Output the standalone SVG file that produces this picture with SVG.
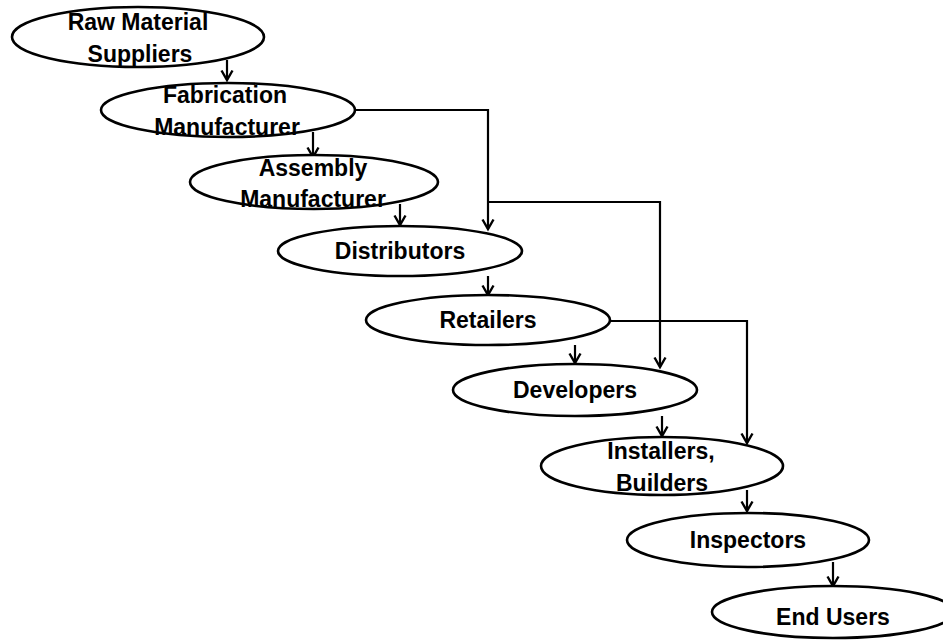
<svg xmlns="http://www.w3.org/2000/svg" width="943" height="640" viewBox="0 0 943 640">
<style>
.n ellipse{fill:#fff;stroke:#000;stroke-width:2.6}
.n text{font-family:"Liberation Sans",Arial,sans-serif;font-weight:bold;font-size:23px;text-anchor:middle;fill:#000}
.c path{fill:none;stroke:#000;stroke-width:2.2;marker-end:url(#ah)}
</style>
<defs>
<marker id="ah" markerUnits="userSpaceOnUse" markerWidth="16" markerHeight="16" refX="13" refY="8" orient="auto" viewBox="0 0 16 16">
<path d="M3.5,2.5 L13,8 L3.5,13.5" fill="none" stroke="#000" stroke-width="2.4"/>
</marker>
</defs>
<g class="c">
<path d="M227,60 V80"/>
<path d="M313,132 V157"/>
<path d="M400,204 V225"/>
<path d="M355,110 H488 V229"/>
<path d="M488,202 H660 V367"/>
<path d="M488,276 V295"/>
<path d="M610,321 H747 V443"/>
<path d="M575,345 V363"/>
<path d="M662,416 V436"/>
<path d="M747,490 V511"/>
<path d="M833,562 V586"/>
</g>
<g id="raw" class="n"><ellipse cx="138" cy="37" rx="126" ry="30"/><text x="138" y="30">Raw Material</text><text x="140" y="62">Suppliers</text></g>
<g id="fab" class="n"><ellipse cx="228" cy="110" rx="127" ry="27"/><text x="225" y="103">Fabrication</text><text x="227" y="135">Manufacturer</text></g>
<g id="asm" class="n"><ellipse cx="314" cy="182" rx="124" ry="27"/><text x="313" y="176">Assembly</text><text x="313" y="207">Manufacturer</text></g>
<g id="dist" class="n"><ellipse cx="400" cy="251" rx="122" ry="25"/><text x="400" y="259">Distributors</text></g>
<g id="ret" class="n"><ellipse cx="488" cy="320" rx="122" ry="25"/><text x="488" y="328">Retailers</text></g>
<g id="dev" class="n"><ellipse cx="575" cy="390" rx="122" ry="26"/><text x="575" y="398">Developers</text></g>
<g id="inst" class="n"><ellipse cx="662" cy="466" rx="121" ry="29"/><text x="661" y="459">Installers,</text><text x="662" y="491">Builders</text></g>
<g id="insp" class="n"><ellipse cx="748" cy="540" rx="121" ry="27"/><text x="748" y="548">Inspectors</text></g>
<g id="end" class="n"><ellipse cx="833" cy="612" rx="121" ry="26"/><text x="833" y="625">End Users</text></g>
</svg>
